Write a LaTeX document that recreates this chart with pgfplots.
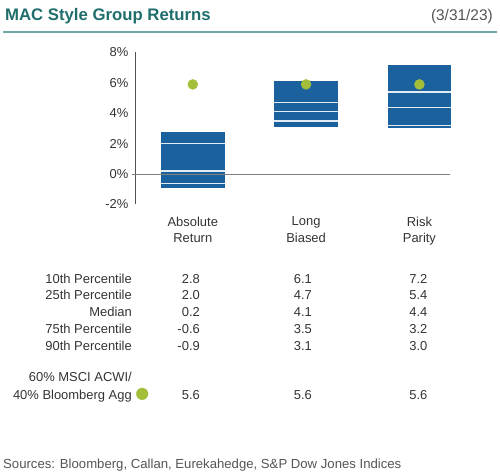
\documentclass[border=0pt]{standalone}
\usepackage{pgfplots}
\pgfplotsset{compat=1.18}
\usepackage{fontspec}
\setmainfont{Liberation Sans}
\newfontfamily\symfont{DejaVu Sans}
\definecolor{boxblue}{HTML}{1A619E}
\definecolor{dotgreen}{HTML}{A3BF3A}
\definecolor{titleteal}{HTML}{1F6E6C}
\definecolor{ruleteal}{HTML}{6FA9A5}
\definecolor{txt}{HTML}{333333}
\definecolor{srcgray}{HTML}{555555}
\definecolor{zerogray}{HTML}{808080}
\newcommand{\tf}{\fontsize{13}{16.5}\selectfont}
\begin{document}
\begin{tikzpicture}[x=1bp,y=1bp]
\useasboundingbox (0,0) rectangle (500,475);
\node[anchor=base west, inner sep=0, text=titleteal, font=\fontsize{16.8}{18}\selectfont\bfseries] at (5,454.5) {MAC Style Group Returns};
\node[anchor=base east, inner sep=0, text=srcgray, font=\fontsize{15.5}{18}\selectfont] at (493,454.5) {(3/31/23)};
\draw[ruleteal, line width=2bp] (3,443.3) -- (497,443.3);

\begin{axis}[at={(135bp,270.5bp)}, anchor=south west, scale only axis,
  width=315bp, height=152bp,
  xmin=-0.51, xmax=2.27, ymin=-2, ymax=8, clip=false,
  axis x line*=bottom, axis y line*=left,
  x axis line style={draw=none},
  y axis line style={draw=txt!85, line width=0.8bp, -},
  major tick length=0pt,
  xtick={0,1,2},
  xticklabels={{Absolute\\Return},{Long\\Biased},{Risk\\Parity}},
  xticklabel style={align=center, font=\tf, text=txt, inner sep=0pt, anchor=north, yshift=-12bp},
  ytick={-2,0,2,4,6,8},
  yticklabels={-2\%,0\%,2\%,4\%,6\%,8\%},
  yticklabel style={font=\tf, text=txt, inner sep=0pt, anchor=east, xshift=-6.5bp},
]
% Absolute Return: 90th -0.9, 10th 2.8
\addplot[fill=boxblue, draw=none] coordinates {(-0.28,-0.9) (0.28,-0.9) (0.28,2.8) (-0.28,2.8)} -- cycle;
% Long Biased: 90th 3.1, 10th 6.1
\addplot[fill=boxblue, draw=none] coordinates {(0.72,3.1) (1.28,3.1) (1.28,6.1) (0.72,6.1)} -- cycle;
% Risk Parity: 90th 3.0, 10th 7.2
\addplot[fill=boxblue, draw=none] coordinates {(1.72,3.0) (2.28,3.0) (2.28,7.2) (1.72,7.2)} -- cycle;
% percentile lines (25th, median, 75th)
\addplot[white!88!boxblue, line width=1.3bp] coordinates {(-0.28,2.0) (0.28,2.0)};
\addplot[white!88!boxblue, line width=1.3bp] coordinates {(-0.28,0.2) (0.28,0.2)};
\addplot[white!88!boxblue, line width=1.3bp] coordinates {(-0.28,-0.6) (0.28,-0.6)};
\addplot[white!88!boxblue, line width=1.3bp] coordinates {(0.72,4.7) (1.28,4.7)};
\addplot[white!88!boxblue, line width=1.3bp] coordinates {(0.72,4.1) (1.28,4.1)};
\addplot[white!88!boxblue, line width=1.3bp] coordinates {(0.72,3.5) (1.28,3.5)};
\addplot[white!88!boxblue, line width=1.3bp] coordinates {(1.72,5.4) (2.28,5.4)};
\addplot[white!88!boxblue, line width=1.3bp] coordinates {(1.72,4.4) (2.28,4.4)};
\addplot[white!88!boxblue, line width=1.3bp] coordinates {(1.72,3.2) (2.28,3.2)};
% zero line
\addplot[zerogray, line width=1bp] coordinates {(-0.54,0) (2.27,0)};
% benchmark 60/40
\addplot[only marks, mark=*, mark size=5bp, dotgreen, mark options={draw=dotgreen, fill=dotgreen}] coordinates {(0,5.9) (1,5.9) (2,5.9)};
\end{axis}

% table
\begin{scope}[every node/.style={inner sep=0, font=\tf, text=txt}]
\node[anchor=base east] at (132,191.7) {10th Percentile};
\node[anchor=base east] at (132,175.2) {25th Percentile};
\node[anchor=base east] at (132,158.7) {Median};
\node[anchor=base east] at (132,141.7) {75th Percentile};
\node[anchor=base east] at (132,124.7) {90th Percentile};
\node[anchor=base east] at (132,93) {60\% MSCI ACWI/};
\node[anchor=base east] at (132,75.7) {40\% Bloomberg Agg};
\node[anchor=base, text=dotgreen] at (142.3,76) {\symfont\fontsize{16}{16}\selectfont ●};
\node[anchor=base east] at (200,191.7) {2.8};
\node[anchor=base east] at (200,175.2) {2.0};
\node[anchor=base east] at (200,158.7) {0.2};
\node[anchor=base east] at (200,141.7) {-0.6};
\node[anchor=base east] at (200,124.7) {-0.9};
\node[anchor=base east] at (200,75.7) {5.6};
\node[anchor=base east] at (312,191.7) {6.1};
\node[anchor=base east] at (312,175.2) {4.7};
\node[anchor=base east] at (312,158.7) {4.1};
\node[anchor=base east] at (312,141.7) {3.5};
\node[anchor=base east] at (312,124.7) {3.1};
\node[anchor=base east] at (312,75.7) {5.6};
\node[anchor=base east] at (427.5,191.7) {7.2};
\node[anchor=base east] at (427.5,175.2) {5.4};
\node[anchor=base east] at (427.5,158.7) {4.4};
\node[anchor=base east] at (427.5,141.7) {3.2};
\node[anchor=base east] at (427.5,124.7) {3.0};
\node[anchor=base east] at (427.5,75.7) {5.6};
\end{scope}
\node[anchor=base west, inner sep=0, text=srcgray, font=\fontsize{13.2}{16}\selectfont] at (3,6) {Sources: Bloomberg, Callan, Eurekahedge, S\&P Dow Jones Indices};
\end{tikzpicture}
\end{document}
